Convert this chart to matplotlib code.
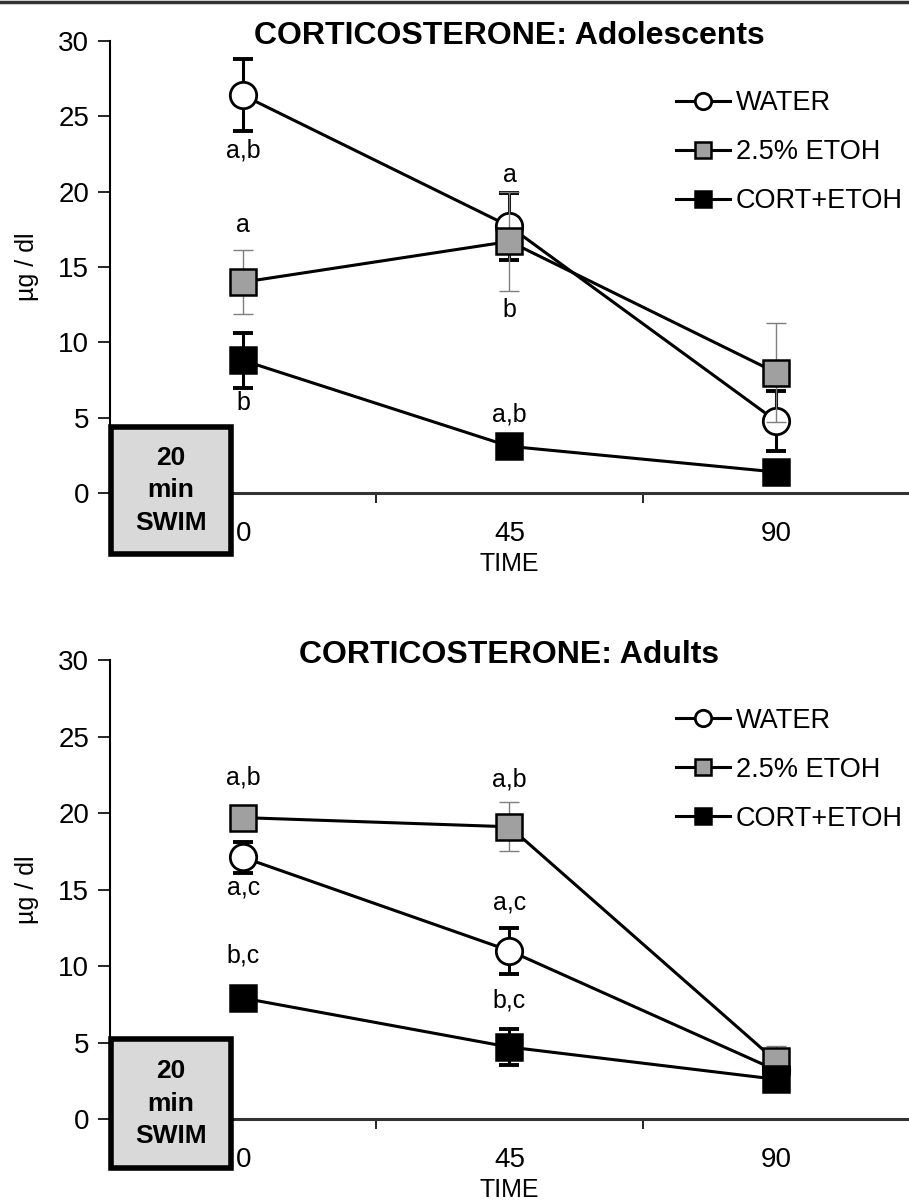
import matplotlib
matplotlib.use("Agg")
import matplotlib.pyplot as plt
from matplotlib.patches import Rectangle
from matplotlib.lines import Line2D

plt.rcParams["font.family"] = ["Liberation Sans", "DejaVu Sans"]

# data
times = [0, 45, 90]
groups = ["WATER", "2.5% ETOH", "CORT+ETOH"]

adol_water = [26.4, 17.7, 4.8]
adol_water_err = [2.4, 2.2, 2.0]
adol_etoh = [14.0, 16.7, 8.0]
adol_etoh_err = [2.1, 3.3, 3.3]
adol_cort = [8.8, 3.1, 1.4]
adol_cort_err = [1.8, 0.5, 0.4]

adult_water = [17.1, 11.0, 3.2]
adult_water_err = [1.0, 1.5, 0.8]
adult_etoh = [19.7, 19.1, 3.8]
adult_etoh_err = [0.6, 1.6, 1.0]
adult_cort = [7.9, 4.7, 2.6]
adult_cort_err = [0.5, 1.2, 0.4]

# significance letters: (group index, time index, text, pixel offset)
adol_letters = [(0, 0, "a,b", -55), (1, 0, "a", 57), (2, 0, "b", -43),
                (0, 1, "a", 51), (1, 1, "b", -69), (2, 1, "a,b", 32)]
adult_letters = [(1, 0, "a,b", 40), (0, 0, "a,c", -30), (2, 0, "b,c", 43),
                 (1, 1, "a,b", 47), (0, 1, "a,c", 48), (2, 1, "b,c", 47)]

styles = [
    dict(marker="o", mfc="white", mec="black", mew=2.0),
    dict(marker="s", mfc="#a0a0a0", mec="black", mew=1.8),
    dict(marker="s", mfc="black", mec="black", mew=1.8),
]
err_styles = [
    dict(ecolor="black", elinewidth=2.2, capthick=2.8, capsize=7),
    dict(ecolor="#7f7f7f", elinewidth=1.0, capthick=1.0, capsize=7),
    dict(ecolor="black", elinewidth=2.2, capthick=2.8, capsize=7),
]

fig = plt.figure(figsize=(9.09, 12.04), dpi=100)
ax1 = fig.add_axes([0.121, 0.5905, 0.879, 0.3754])
ax2 = fig.add_axes([0.121, 0.0706, 0.879, 0.3812])

# thin frame line on top of the picture
fig.add_artist(Line2D([0, 1], [0.9985, 0.9985], color="#333333", lw=2.5))


def panel(ax, series, errs, letters, title, box_top, box_bot, leg_y):
    for i, (vals, err) in enumerate(zip(series, errs)):
        ax.errorbar(times, vals, yerr=err, fmt="none", zorder=2 + i, **err_styles[i])
        ax.plot(times, vals, color="black", lw=2.2, ms=19, zorder=3 + i,
                label=groups[i], **styles[i])
    for g, t, txt, dy in letters:
        ax.annotate(txt, (times[t], series[g][t]), xytext=(0, dy),
                    textcoords="offset pixels", ha="center", va="center",
                    fontsize=18, zorder=10)

    ax.set_xlim(-22.5, 112.5)
    ax.set_ylim(0, 30)
    ax.set_yticks(range(0, 31, 5))
    ax.set_xticks(times)
    ax.set_xticks([22.5, 67.5], minor=True)
    ax.tick_params(axis="x", which="major", length=0, pad=20, labelsize=20)
    ax.tick_params(axis="x", which="minor", length=7, width=1.2, direction="out")
    ax.tick_params(axis="y", length=9, width=1.2, labelsize=20, pad=6)
    for s in ["top", "right"]:
        ax.spines[s].set_visible(False)
    ax.spines["left"].set_linewidth(1.5)
    ax.spines["bottom"].set_linewidth(2.2)
    ax.spines["bottom"].set_color("#333333")
    ax.set_xlabel("TIME", fontsize=18, labelpad=4)
    ax.set_ylabel("µg / dl", fontsize=18, labelpad=14)
    ax.set_title(title, fontsize=23, fontweight="bold", y=0.994, pad=0)

    ax.legend(loc="upper left", bbox_to_anchor=(0.695, leg_y), frameon=False,
              fontsize=19.5, markerscale=0.62, handlelength=2.0,
              handletextpad=0.2, labelspacing=0.85, borderaxespad=0)

    box = Rectangle((-22.3, box_bot), 20.3, box_top - box_bot, facecolor="#d9d9d9",
                    edgecolor="black", lw=4, clip_on=False, zorder=12)
    ax.add_patch(box)
    ax.text(-12.2, (box_top + box_bot) / 2, "20\nmin\nSWIM", ha="center",
            va="center", fontsize=19, fontweight="bold", linespacing=1.45,
            zorder=13, clip_on=False)


panel(ax1, [adol_water, adol_etoh, adol_cort],
      [adol_water_err, adol_etoh_err, adol_cort_err],
      adol_letters, "CORTICOSTERONE: Adolescents", 4.4, -4.05, 0.915)
panel(ax2, [adult_water, adult_etoh, adult_cort],
      [adult_water_err, adult_etoh_err, adult_cort_err],
      adult_letters, "CORTICOSTERONE: Adults", 5.2, -3.2, 0.92)

fig.savefig("out.png", dpi=100)
